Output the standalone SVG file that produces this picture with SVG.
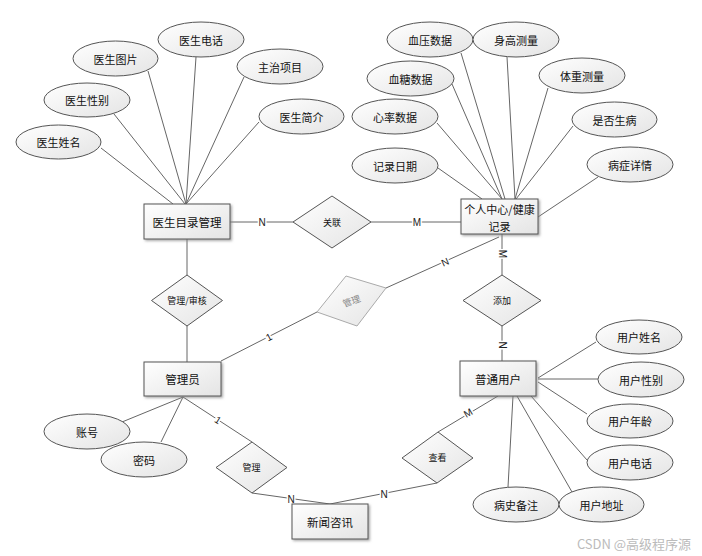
<svg xmlns="http://www.w3.org/2000/svg" width="702" height="556" viewBox="0 0 702 556">
<defs>
<linearGradient id="g" x1="0" y1="0" x2="1" y2="1">
<stop offset="0" stop-color="#ffffff"/>
<stop offset="1" stop-color="#e4e4e4"/>
</linearGradient>
<filter id="sh" x="-20%" y="-20%" width="150%" height="160%">
<feDropShadow dx="1.5" dy="1.5" stdDeviation="0.8" flood-color="#888" flood-opacity="0.7"/>
</filter>
</defs>
<style>
.ent{fill:url(#g);stroke:#555;stroke-width:1;filter:url(#sh)}
.att{fill:url(#g);stroke:#555;stroke-width:1}
.rel{fill:url(#g);stroke:#555;stroke-width:1}
.ln{stroke:#666;stroke-width:1;fill:none}
text{font-family:"Noto Sans CJK SC","Liberation Sans",sans-serif;fill:#111;text-anchor:middle;dominant-baseline:central}
.t{font-size:11px}
.te{font-size:11.5px}
.td{font-size:9px}
.c{font-family:"Liberation Sans",sans-serif;font-size:10px;stroke:#fff;stroke-width:3;paint-order:stroke;fill:#222}
</style>
<rect width="702" height="556" fill="#fff"/>
<g id="connectors">
<line class="ln" x1="101" y1="148" x2="173" y2="204"/>
<line class="ln" x1="114" y1="114" x2="185" y2="204"/>
<line class="ln" x1="148" y1="71" x2="186" y2="204"/>
<line class="ln" x1="196" y1="57" x2="186" y2="204"/>
<line class="ln" x1="244" y1="77" x2="186" y2="204"/>
<line class="ln" x1="259" y1="122" x2="186" y2="204"/>
<line class="ln" x1="230" y1="222" x2="293" y2="222"/>
<line class="ln" x1="371" y1="222" x2="461" y2="222"/>
<line class="ln" x1="438" y1="168" x2="482" y2="199"/>
<line class="ln" x1="437" y1="123" x2="502" y2="199"/>
<line class="ln" x1="452" y1="84" x2="502" y2="199"/>
<line class="ln" x1="461" y1="53" x2="505" y2="199"/>
<line class="ln" x1="507" y1="57" x2="515" y2="199"/>
<line class="ln" x1="548" y1="88" x2="515" y2="199"/>
<line class="ln" x1="573" y1="126" x2="516" y2="199"/>
<line class="ln" x1="598" y1="177" x2="538" y2="217"/>
<line class="ln" x1="502" y1="234" x2="502" y2="275"/>
<line class="ln" x1="502" y1="326" x2="502" y2="361"/>
<line class="ln" x1="187" y1="239" x2="187" y2="275"/>
<line class="ln" x1="187" y1="326" x2="187" y2="362"/>
<line class="ln" x1="221" y1="361" x2="317" y2="312"/>
<line class="ln" x1="386" y1="288" x2="499" y2="237"/>
<line class="ln" x1="183" y1="397" x2="122" y2="422"/>
<line class="ln" x1="183" y1="397" x2="161" y2="442"/>
<line class="ln" x1="183" y1="397" x2="252" y2="442"/>
<line class="ln" x1="252" y1="493" x2="330" y2="504"/>
<line class="ln" x1="437" y1="483" x2="330" y2="504"/>
<line class="ln" x1="498" y1="396" x2="438" y2="432"/>
<line class="ln" x1="538" y1="378" x2="596" y2="342"/>
<line class="ln" x1="538" y1="379" x2="598" y2="379" stroke-width="2"/>
<line class="ln" x1="538" y1="382" x2="587" y2="414"/>
<line class="ln" x1="531" y1="396" x2="587" y2="460"/>
<line class="ln" x1="517" y1="396" x2="572" y2="492"/>
<line class="ln" x1="513" y1="396" x2="508" y2="487"/>
<text class="c" x="262" y="222">N</text>
<text class="c" x="417" y="222">M</text>
<text class="c" transform="translate(502 254) rotate(90)">M</text>
<text class="c" transform="translate(502 345) rotate(90)">N</text>
<text class="c" transform="translate(445 262) rotate(-24)">N</text>
<text class="c" transform="translate(269 337) rotate(-27)">1</text>
<text class="c" transform="translate(218 420) rotate(33)">1</text>
<text class="c" x="291" y="499">N</text>
<text class="c" x="384" y="494">N</text>
<text class="c" transform="translate(468 413) rotate(-30)">M</text>
</g>
<g id="doctor"><rect class="ent" x="144" y="204" width="86" height="35"/><text class="te" x="187" y="222">医生目录管理</text></g>
<g id="health"><rect class="ent" x="461" y="199" width="77" height="35"/><text class="t" x="499.5" y="208.5">个人中心/健康</text><text class="t" x="499.5" y="225.5">记录</text></g>
<g id="admin"><rect class="ent" x="144" y="362" width="77" height="34"/><text class="te" x="182.5" y="379">管理员</text></g>
<g id="user"><rect class="ent" x="460" y="361" width="76" height="35"/><text class="te" x="498" y="379">普通用户</text></g>
<g id="news"><rect class="ent" x="292" y="504" width="76" height="35"/><text class="te" x="330" y="521.5">新闻咨讯</text></g>
<g id="a-dname"><ellipse class="att" cx="58.5" cy="142" rx="42.5" ry="17"/><text class="t" x="58.5" y="142">医生姓名</text></g>
<g id="a-dsex"><ellipse class="att" cx="87" cy="100" rx="43" ry="17"/><text class="t" x="87" y="100">医生性别</text></g>
<g id="a-dpic"><ellipse class="att" cx="115.5" cy="58.5" rx="42.5" ry="17.5"/><text class="t" x="115.5" y="58.5">医生图片</text></g>
<g id="a-dtel"><ellipse class="att" cx="201" cy="39.5" rx="43" ry="17.5"/><text class="t" x="201" y="39.5">医生电话</text></g>
<g id="a-dproj"><ellipse class="att" cx="280" cy="66.5" rx="43" ry="17.5"/><text class="t" x="280" y="66.5">主治项目</text></g>
<g id="a-dintro"><ellipse class="att" cx="301.5" cy="116.5" rx="42.5" ry="17.5"/><text class="t" x="301.5" y="116.5">医生简介</text></g>
<g id="a-bp"><ellipse class="att" cx="430" cy="39.5" rx="43" ry="17.5"/><text class="t" x="430" y="39.5">血压数据</text></g>
<g id="a-height"><ellipse class="att" cx="516" cy="39.5" rx="43" ry="17.5"/><text class="t" x="516" y="39.5">身高测量</text></g>
<g id="a-sugar"><ellipse class="att" cx="410.5" cy="78.5" rx="43.5" ry="17.5"/><text class="t" x="410.5" y="78.5">血糖数据</text></g>
<g id="a-weight"><ellipse class="att" cx="582" cy="75.5" rx="43" ry="17.5"/><text class="t" x="582" y="75.5">体重测量</text></g>
<g id="a-heart"><ellipse class="att" cx="395" cy="116.5" rx="43" ry="17.5"/><text class="t" x="395" y="116.5">心率数据</text></g>
<g id="a-sick"><ellipse class="att" cx="614.5" cy="119.5" rx="42.5" ry="17.5"/><text class="t" x="614.5" y="119.5">是否生病</text></g>
<g id="a-date"><ellipse class="att" cx="395" cy="165.5" rx="43" ry="17.5"/><text class="t" x="395" y="165.5">记录日期</text></g>
<g id="a-detail"><ellipse class="att" cx="630" cy="164.5" rx="43" ry="17.5"/><text class="t" x="630" y="164.5">病症详情</text></g>
<g id="a-uname"><ellipse class="att" cx="639" cy="337" rx="43" ry="17"/><text class="t" x="639" y="337">用户姓名</text></g>
<g id="a-usex"><ellipse class="att" cx="641" cy="379.5" rx="43" ry="17.5"/><text class="t" x="641" y="379.5">用户性别</text></g>
<g id="a-uage"><ellipse class="att" cx="630" cy="421" rx="43" ry="17"/><text class="t" x="630" y="421">用户年龄</text></g>
<g id="a-utel"><ellipse class="att" cx="630" cy="462.5" rx="43" ry="17.5"/><text class="t" x="630" y="462.5">用户电话</text></g>
<g id="a-history"><ellipse class="att" cx="516" cy="504.5" rx="43" ry="17.5"/><text class="t" x="516" y="504.5">病史备注</text></g>
<g id="a-addr"><ellipse class="att" cx="601.5" cy="504.5" rx="42.5" ry="17.5"/><text class="t" x="601.5" y="504.5">用户地址</text></g>
<g id="a-acct"><ellipse class="att" cx="87" cy="431.5" rx="43" ry="17.5"/><text class="t" x="87" y="431.5">账号</text></g>
<g id="a-pwd"><ellipse class="att" cx="144" cy="459.5" rx="43" ry="17.5"/><text class="t" x="144" y="459.5">密码</text></g>
<g id="r-link"><polygon class="rel" points="332,196 371,222 332,248 293,222"/><text class="td" x="332" y="222">关联</text></g>
<g id="r-audit"><polygon class="rel" points="187,275 222.5,300.5 187,326 151.5,300.5"/><text class="td" x="187" y="300.5">管理/审核</text></g>
<g id="r-add"><polygon class="rel" points="502,275 541,300.5 502,326 463,300.5"/><text class="td" x="502" y="300.5">添加</text></g>
<g id="r-manage-grey"><polygon points="346,276 386,288 357,326 317,312" fill="url(#g)" stroke="#aaa" stroke-width="1"/><text class="td" style="fill:#888" transform="translate(351.5 301) rotate(-20)">管理</text></g>
<g id="r-manage"><polygon class="rel" points="252,442 287,467.5 252,493 216,467.5"/><text class="td" x="251.5" y="467.5">管理</text></g>
<g id="r-view"><polygon class="rel" points="438,432 473,458 437,483 402,458"/><text class="td" x="437.5" y="457.5">查看</text></g>
<text x="634" y="543" style="font-size:13px;fill:#bbb">CSDN @高级程序源</text>
</svg>
